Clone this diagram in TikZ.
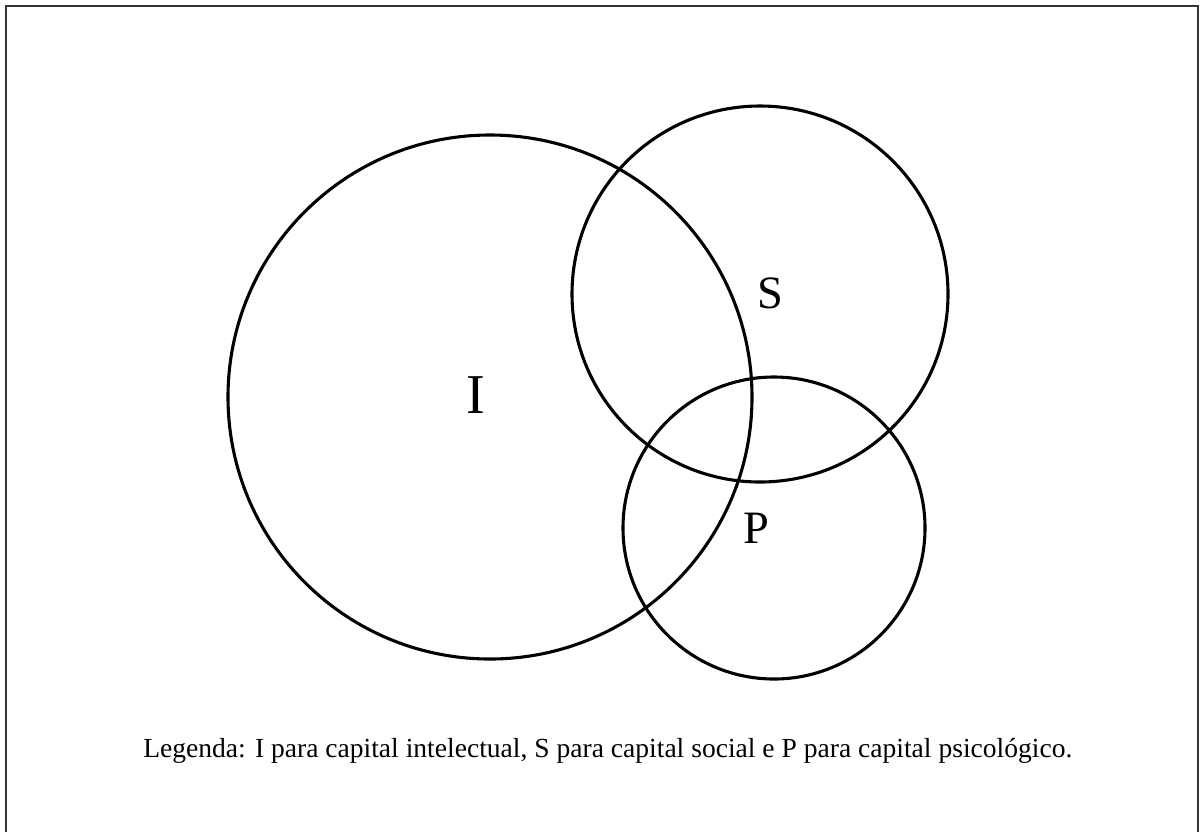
\documentclass[tikz,border=0pt]{standalone}
\usepackage{fontspec}
\setmainfont{Liberation Serif}
\usetikzlibrary{positioning}

\tikzset{
  capital/.style={draw,line width=2.2pt},
  letra/.style={font=\fontsize{33}{36}\selectfont},
}

\begin{document}
\begin{tikzpicture}[x=0.025cm,y=-0.025cm]
  \useasboundingbox (0,0) rectangle (1202,831);
  % moldura
  \draw[line width=1.4pt,black!80] (6,840) -- (6,6) -- (1198,6) -- (1198,840);
  % circulos
  \coordinate (cI) at (490,397);
  \coordinate (cS) at (760,294);
  \coordinate (cP) at (774,528);
  \draw[capital] (cI) circle (262);
  \draw[capital] (cS) circle (188);
  \draw[capital] (cP) circle (151);
  % rotulos
  \node[font=\fontsize{40}{44}\selectfont] (labI) at (476,395) {I};
  \node[letra] (labS) at (770,293) {S};
  \node[letra] (labP) at (756,528) {P};
  \node[font=\fontsize{19.6}{22}\selectfont,anchor=base west,inner sep=0pt] (leg) at (143,757)
    {Legenda: I para capital intelectual, S para capital social e P para capital psicológico.};
\end{tikzpicture}
\end{document}
